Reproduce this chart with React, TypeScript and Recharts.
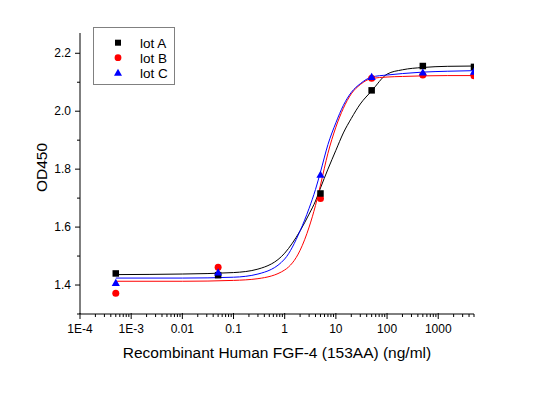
import React from 'react';
import { ComposedChart, Line, Scatter, XAxis, YAxis, Legend } from 'recharts';

// Measured points
const concentrations = [0.0005, 0.05, 5, 50, 500, 5000];
const lotA = [1.44, 1.434, 1.716, 2.072, 2.156, 2.153];
const lotB = [1.372, 1.461, 1.699, 2.114, 2.125, 2.122];
const lotC = [1.407, 1.443, 1.78, 2.118, 2.133, 2.136];

// Fitted curves
const fitX = [0.0005, 0.01, 0.1, 0.3, 1, 2, 3, 4, 5, 7, 10, 14, 20, 30, 50, 100, 200, 500, 1500, 5000];
const fitA = [1.436, 1.438, 1.443, 1.455, 1.51, 1.587, 1.645, 1.69, 1.735, 1.8, 1.865, 1.925, 1.975, 2.025, 2.07, 2.128, 2.143, 2.151, 2.155, 2.156];
const fitB = [1.413, 1.413, 1.416, 1.422, 1.452, 1.52, 1.6, 1.675, 1.745, 1.855, 1.945, 2.01, 2.06, 2.092, 2.113, 2.118, 2.12, 2.122, 2.123, 2.123];
const fitC = [1.424, 1.424, 1.427, 1.438, 1.49, 1.587, 1.665, 1.73, 1.79, 1.885, 1.96, 2.02, 2.065, 2.095, 2.118, 2.125, 2.13, 2.135, 2.138, 2.14];

const lotNames = ['lot A', 'lot B', 'lot C'];
const lotColors = ['#000000', '#ff0000', '#0000ff'];

const xMajorTicks = [0.0001, 0.001, 0.01, 0.1, 1, 10, 100, 1000];
const xTickLabels = ['1E-4', '1E-3', '0.01', '0.1', '1', '10', '100', '1000'];
const xMax = 5000;
const yMajorTicks = [1.4, 1.6, 1.8, 2.0, 2.2];
const yTickLabels = ['1.4', '1.6', '1.8', '2.0', '2.2'];
const yMinorTicks = [1.3, 1.5, 1.7, 1.9, 2.1];
const yDomain = [1.3, 2.27];

const xMinorTicks: number[] = [];
xMajorTicks.forEach((d) => {
  for (let m = 2; m <= 9; m++) {
    const v = d * m;
    if (v <= xMax * 1.0001) xMinorTicks.push(v);
  }
});
const xAllTicks = [...xMajorTicks, ...xMinorTicks].sort((a, b) => a - b);
const yAllTicks = [...yMajorTicks, ...yMinorTicks].sort((a, b) => a - b);

const toPts = (xs: number[], ys: number[]) => xs.map((x, i) => ({ x, y: ys[i] }));

const pointsA = toPts(concentrations, lotA);
const pointsB = toPts(concentrations, lotB);
const pointsC = toPts(concentrations, lotC);
const curveA = toPts(fitX, fitA);
const curveB = toPts(fitX, fitB);
const curveC = toPts(fitX, fitC);

const FONT = '"Liberation Sans", Arial, sans-serif';

const XTick = (props: any) => {
  const { x, y, payload } = props;
  const v = payload.value;
  const idx = xMajorTicks.findIndex((t) => Math.abs(t - v) / t < 1e-6);
  if (idx < 0) {
    return <line x1={x} x2={x} y1={y} y2={y + 3} stroke="#000" strokeWidth={1} />;
  }
  return (
    <g>
      <line x1={x} x2={x} y1={y - 1} y2={y + 5} stroke="#000" strokeWidth={1} />
      <text x={x} y={y + 19} textAnchor="middle" fontSize={12} fill="#000" fontFamily={FONT}>
        {xTickLabels[idx]}
      </text>
    </g>
  );
};

const YTick = (props: any) => {
  const { x, y, payload } = props;
  const v = payload.value;
  const idx = yMajorTicks.findIndex((t) => Math.abs(t - v) < 1e-6);
  if (idx < 0) {
    return <line x1={x - 3} x2={x} y1={y} y2={y} stroke="#000" strokeWidth={1} />;
  }
  return (
    <g>
      <line x1={x - 5} x2={x} y1={y} y2={y} stroke="#000" strokeWidth={1} />
      <text x={x - 9} y={y + 4} textAnchor="end" fontSize={12} fill="#000" fontFamily={FONT}>
        {yTickLabels[idx]}
      </text>
    </g>
  );
};

const Square = (props: any) => {
  const { cx, cy, fill } = props;
  return <rect x={cx - 3.25} y={cy - 3.25} width={6.5} height={6.5} fill={fill} />;
};
const Circle = (props: any) => {
  const { cx, cy, fill } = props;
  return <circle cx={cx} cy={cy} r={3.5} fill={fill} />;
};
const Triangle = (props: any) => {
  const { cx, cy, fill } = props;
  return <polygon points={`${cx},${cy - 4.3} ${cx + 4.1},${cy + 2.9} ${cx - 4.1},${cy + 2.9}`} fill={fill} />;
};

const LegendBox = () => {
  const rows = [0, 1, 2];
  return (
    <div
      style={{
        width: 82,
        height: 58,
        border: '1px solid #808080',
        boxSizing: 'border-box',
        background: '#fff',
      }}
    >
      <svg width={80} height={56} style={{ display: 'block' }}>
        {rows.map((i) => {
          const cy = 14.7 + i * 15;
          const cx = 24;
          let marker;
          if (i === 0) marker = <rect x={cx - 3} y={cy - 3} width={6} height={6} fill={lotColors[0]} />;
          else if (i === 1) marker = <circle cx={cx} cy={cy} r={3.4} fill={lotColors[1]} />;
          else
            marker = (
              <polygon points={`${cx},${cy - 4} ${cx + 4},${cy + 3} ${cx - 4},${cy + 3}`} fill={lotColors[2]} />
            );
          return (
            <g key={i}>
              {marker}
              <text x={46} y={cy + 4.8} fontSize={13.5} fill="#000" fontFamily={FONT}>
                {lotNames[i]}
              </text>
            </g>
          );
        })}
      </svg>
    </div>
  );
};

export default function App() {
  return (
    <div
      style={{
        position: 'absolute',
        left: 0,
        top: 0,
        width: 558,
        height: 395,
        background: '#fff',
        fontFamily: FONT,
      }}
    >
      <ComposedChart width={558} height={395} margin={{ top: 33, right: 84, bottom: 31, left: 0 }}>
        <XAxis
          dataKey="x"
          type="number"
          scale="log"
          domain={[0.0001, xMax]}
          allowDataOverflow
          ticks={xAllTicks}
          interval={0}
          tickSize={0}
          tickMargin={0}
          tickLine={false}
          tick={<XTick />}
          height={50}
          axisLine={{ stroke: '#000', strokeWidth: 1 }}
          label={{
            content: (p: any) => {
              const vb = p.viewBox || { x: 80, y: 314, width: 394 };
              return (
                <text
                  x={vb.x + vb.width / 2}
                  y={vb.y + 44}
                  textAnchor="middle"
                  fontSize={15.5}
                  fill="#000"
                  fontFamily={FONT}
                >
                  Recombinant Human FGF-4 (153AA) (ng/ml)
                </text>
              );
            },
          }}
        />
        <YAxis
          type="number"
          domain={yDomain}
          allowDataOverflow
          ticks={yAllTicks}
          interval={0}
          tickSize={0}
          tickMargin={0}
          tickLine={false}
          tick={<YTick />}
          width={80}
          axisLine={{ stroke: '#000', strokeWidth: 1 }}
          label={{
            content: (p: any) => {
              const vb = p.viewBox || { x: 0, y: 33, width: 80, height: 281 };
              const lx = vb.x + 46.5;
              const ly = vb.y + 134.5;
              return (
                <text
                  x={lx}
                  y={ly}
                  transform={`rotate(-90 ${lx} ${ly})`}
                  textAnchor="middle"
                  fontSize={15.5}
                  fill="#000"
                  fontFamily={FONT}
                >
                  OD450
                </text>
              );
            },
          }}
        />
        <Legend
          layout="horizontal"
          verticalAlign="middle"
          align="center"
          wrapperStyle={{ left: 93, top: 27, width: 82, height: 58 }}
          content={() => <LegendBox />}
        />
        <Line data={curveA} dataKey="y" type="monotone" stroke={lotColors[0]} strokeWidth={1} dot={false} activeDot={false} isAnimationActive={false} name={lotNames[0]} />
        <Line data={curveB} dataKey="y" type="monotone" stroke={lotColors[1]} strokeWidth={1} dot={false} activeDot={false} isAnimationActive={false} name={lotNames[1]} />
        <Line data={curveC} dataKey="y" type="monotone" stroke={lotColors[2]} strokeWidth={1} dot={false} activeDot={false} isAnimationActive={false} name={lotNames[2]} />
        <Scatter data={pointsB} dataKey="y" fill={lotColors[1]} shape={<Circle />} isAnimationActive={false} name={lotNames[1]} />
        <Scatter data={pointsA} dataKey="y" fill={lotColors[0]} shape={<Square />} isAnimationActive={false} name={lotNames[0]} />
        <Scatter data={pointsC} dataKey="y" fill={lotColors[2]} shape={<Triangle />} isAnimationActive={false} name={lotNames[2]} />
      </ComposedChart>
    </div>
  );
}
